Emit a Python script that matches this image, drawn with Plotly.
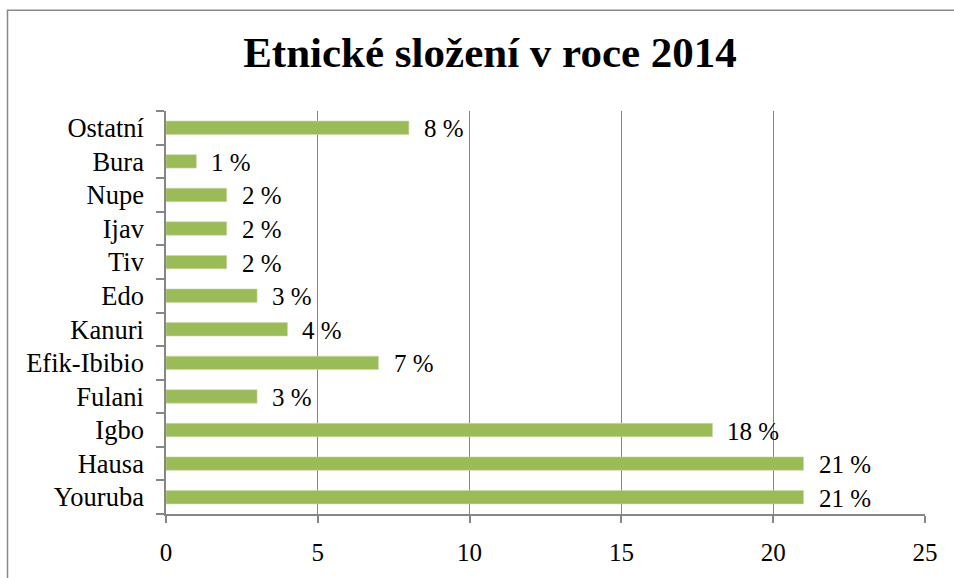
import plotly.graph_objects as go

categories = ["Youruba", "Hausa", "Igbo", "Fulani", "Efik-Ibibio", "Kanuri",
              "Edo", "Tiv", "Ijav", "Nupe", "Bura", "Ostatní"]
values = [21, 21, 18, 3, 7, 4, 3, 2, 2, 2, 1, 8]
labels = [f"{v} %" for v in values]
x_ticks = [0, 5, 10, 15, 20, 25]

FONT = "Liberation Serif"
GRID = "#868686"

fig = go.Figure()
fig.add_trace(go.Bar(
    x=values, y=categories, orientation="h",
    marker=dict(color="#9BBB59", line=dict(color="#C9DAA8", width=0.6)),
    width=0.4, hoverinfo="skip",
))

for c, v, t in zip(categories, values, labels):
    fig.add_annotation(x=v, y=c, text=t, showarrow=False, xanchor="left",
                       xshift=13, yshift=-1,
                       font=dict(family=FONT, size=25, color="black"))

L, R, T, B = 166, 29, 111, 57
W, H = 954, 578
pw, ph = W - L - R, H - T - B
px = lambda X: (X - L) / pw
py = lambda Y: (H - B - Y) / ph

fig.add_shape(type="path", xref="paper", yref="paper",
              path=f"M {px(7.5)} {py(600)} L {px(7.5)} {py(8.5)} L {px(1000)} {py(8.5)}",
              line=dict(color="#898989", width=1.5))

fig.update_layout(
    width=W, height=H,
    margin=dict(l=L, r=R, t=T, b=B),
    paper_bgcolor="white", plot_bgcolor="white",
    showlegend=False,
    font=dict(family=FONT, size=25, color="black"),
    title=dict(text="<b>Etnické složení v roce 2014</b>", x=490 / W, xanchor="center",
               y=1 - 52 / H, yanchor="middle", xref="container", yref="container",
               font=dict(family=FONT, size=43, color="black")),
    bargap=0.6,
)
fig.update_xaxes(range=[0, 25], tickvals=x_ticks, showgrid=True, gridcolor=GRID,
                 gridwidth=1, showline=True, linecolor=GRID, linewidth=1.5,
                 ticks="outside", ticklen=7, tickcolor=GRID, tickwidth=1.5,
                 zeroline=False, fixedrange=True, ticklabelstandoff=8,
                 tickfont=dict(family=FONT, size=25, color="black"))
fig.update_yaxes(categoryorder="array", categoryarray=categories,
                 showline=True, linecolor=GRID, linewidth=1.5,
                 ticks="outside", tickson="boundaries", ticklen=8, tickcolor=GRID,
                 tickwidth=1.5, showgrid=False, ticklabelstandoff=15, fixedrange=True,
                 tickfont=dict(family=FONT, size=26.5, color="black"))

fig.write_html("out.html", config={"displayModeBar": False},
               post_script="document.body.style.margin='0';")
